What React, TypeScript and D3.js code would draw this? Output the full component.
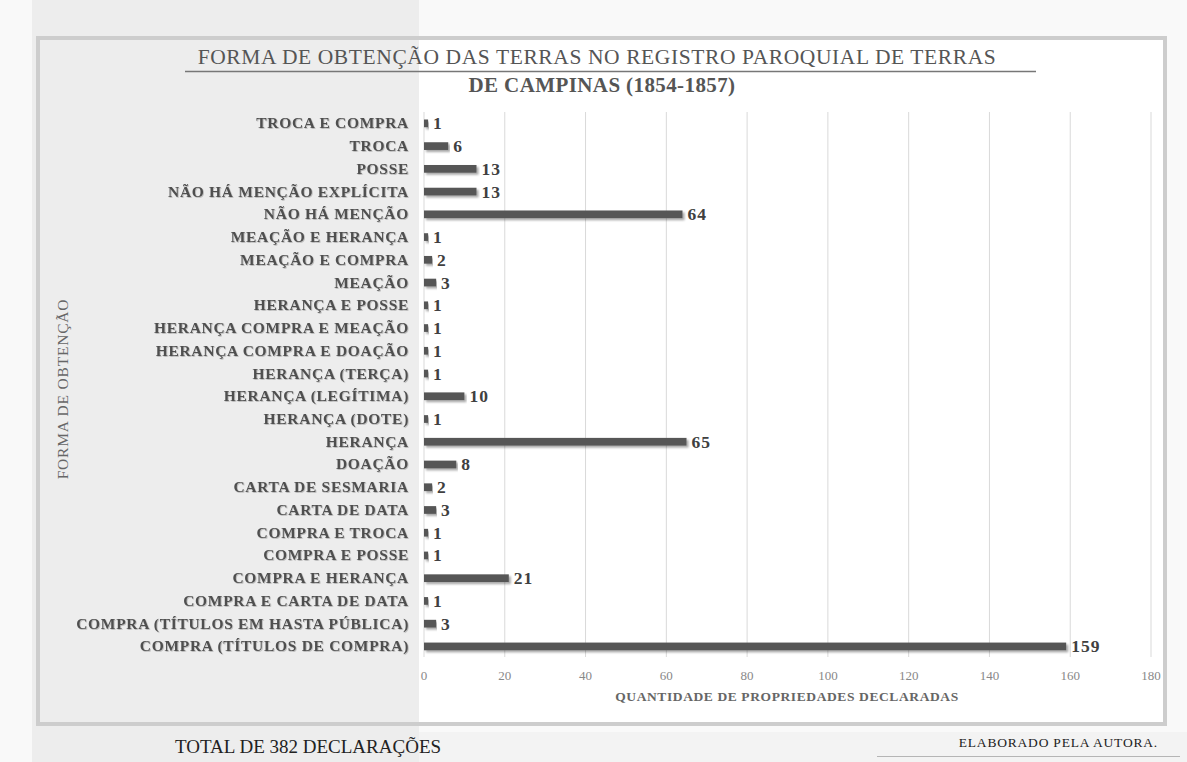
import React from "react";
import * as d3 from "d3";

const categories = [
  "TROCA E COMPRA",
  "TROCA",
  "POSSE",
  "NÃO HÁ MENÇÃO EXPLÍCITA",
  "NÃO HÁ MENÇÃO",
  "MEAÇÃO E HERANÇA",
  "MEAÇÃO E COMPRA",
  "MEAÇÃO",
  "HERANÇA E POSSE",
  "HERANÇA COMPRA E MEAÇÃO",
  "HERANÇA COMPRA E DOAÇÃO",
  "HERANÇA (TERÇA)",
  "HERANÇA (LEGÍTIMA)",
  "HERANÇA (DOTE)",
  "HERANÇA",
  "DOAÇÃO",
  "CARTA DE SESMARIA",
  "CARTA DE DATA",
  "COMPRA E TROCA",
  "COMPRA E POSSE",
  "COMPRA E HERANÇA",
  "COMPRA E CARTA DE DATA",
  "COMPRA (TÍTULOS EM HASTA PÚBLICA)",
  "COMPRA (TÍTULOS DE COMPRA)",
];

const values = [1, 6, 13, 13, 64, 1, 2, 3, 1, 1, 1, 1, 10, 1, 65, 8, 2, 3, 1, 1, 21, 1, 3, 159];

const xTicks = [0, 20, 40, 60, 80, 100, 120, 140, 160, 180];

const titleLine1 = "FORMA DE OBTENÇÃO DAS TERRAS NO REGISTRO PAROQUIAL DE TERRAS";
const titleLine2 = "DE CAMPINAS (1854-1857)";
const xAxisTitle = "QUANTIDADE DE PROPRIEDADES DECLARADAS";
const yAxisTitle = "FORMA DE OBTENÇÃO";
const footerLeft = "TOTAL DE 382 DECLARAÇÕES";
const footerRight = "ELABORADO PELA AUTORA.";

const W = 1187;
const H = 762;
const FONT = "'Liberation Serif', 'Times New Roman', serif";

export default function App() {
  const x = d3.scaleLinear().domain([0, 180]).range([424, 1151]);
  const y = d3.scaleBand<string>().domain(categories).range([112, 657.8]).paddingInner(0.66).paddingOuter(0.33);
  const plotTop = 112;
  const plotBottom = 657;

  return (
    <svg width={W} height={H} style={{ display: "block", position: "absolute", left: 0, top: 0 }}>
      <defs>
        <filter id="barShadow" x="-5%" y="-100%" width="110%" height="300%">
          <feDropShadow dx="2" dy="2" stdDeviation="1.3" floodColor="#000" floodOpacity="0.35" />
        </filter>
        <filter id="txtShadow" x="-5%" y="-20%" width="110%" height="140%">
          <feDropShadow dx="0.8" dy="0.8" stdDeviation="0.6" floodColor="#000" floodOpacity="0.25" />
        </filter>
      </defs>
      {/* page background */}
      <rect x={0} y={0} width={W} height={H} fill="#f9f9f9" />
      <rect x={32} y={0} width={387} height={H} fill="#ededed" />
      {/* frame interior right side */}
      <rect x={419} y={38} width={746} height={686} fill="#ffffff" />
      {/* frame */}
      <rect x={38} y={38} width={1127} height={686} fill="none" stroke="#cdcdcd" strokeWidth={4} />
      {/* footer band */}
      <rect x={419} y={732} width={768} height={30} fill="#f3f3f3" />

      {/* title */}
      <text x={597} y={64} textAnchor="middle" fontFamily={FONT} fontSize={21.5} letterSpacing={0.6} fill="#555">
        {titleLine1}
      </text>
      <line x1={185} x2={1036} y1={71.5} y2={71.5} stroke="#777" strokeWidth={1.6} />
      <text x={602} y={92} textAnchor="middle" fontFamily={FONT} fontSize={21} letterSpacing={0.4} fontWeight="bold" fill="#555">
        {titleLine2}
      </text>

      {/* gridlines */}
      {xTicks.map((t) => (
        <line key={"g" + t} x1={x(t)} x2={x(t)} y1={plotTop} y2={plotBottom} stroke="#d9d9d9" strokeWidth={1} />
      ))}

      {/* tick labels */}
      {xTicks.map((t) => (
        <text key={"t" + t} x={x(t)} y={680} textAnchor="middle" fontFamily={FONT} fontSize={13} fill="#888">
          {t}
        </text>
      ))}

      {/* bars */}
      {categories.map((c, i) => (
        <rect
          key={"b" + c}
          x={x(0)}
          y={y(c)!}
          width={Math.max(x(values[i]) - x(0), 2.5)}
          height={y.bandwidth()}
          fill="#575757"
          filter="url(#barShadow)"
        />
      ))}

      {/* value labels */}
      {categories.map((c, i) => (
        <text
          key={"v" + c}
          x={x(values[i]) + 5}
          y={y(c)! + y.bandwidth() / 2 + 6}
          fontFamily={FONT}
          fontSize={17.5}
          letterSpacing={1}
          fontWeight="bold"
          fill="#404040"
        >
          {values[i]}
        </text>
      ))}

      {/* category labels */}
      {categories.map((c) => (
        <text
          key={"c" + c}
          x={409}
          y={y(c)! + y.bandwidth() / 2 + 5}
          textAnchor="end"
          fontFamily={FONT}
          fontSize={15.5}
          letterSpacing={0.7}
          fontWeight="bold"
          fill="#505050"
          filter="url(#txtShadow)"
        >
          {c}
        </text>
      ))}

      {/* axis titles */}
      <text x={787} y={701} textAnchor="middle" fontFamily={FONT} fontSize={13.5} letterSpacing={0.6} fontWeight="bold" fill="#666">
        {xAxisTitle}
      </text>
      <text
        transform={`translate(68, 389) rotate(-90)`}
        textAnchor="middle"
        fontFamily={FONT}
        fontSize={15.5}
        letterSpacing={0.8}
        fill="#666"
      >
        {yAxisTitle}
      </text>

      {/* footer */}
      <text x={175} y={753} fontFamily={FONT} fontSize={19} fill="#222">
        {footerLeft}
      </text>
      <text x={1158} y={747} textAnchor="end" fontFamily={FONT} fontSize={13.5} letterSpacing={0.8} fill="#222">
        {footerRight}
      </text>
      <line x1={877} x2={1180} y1={756.5} y2={756.5} stroke="#b5b5b5" strokeWidth={1.2} />
    </svg>
  );
}
